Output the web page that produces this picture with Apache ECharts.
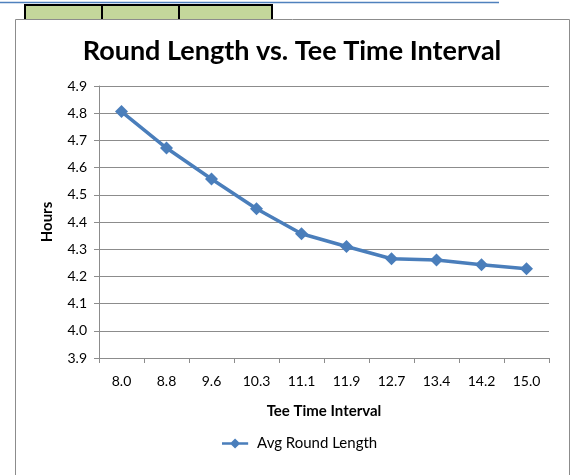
<!DOCTYPE html>
<html><head><meta charset="utf-8">
<script src="https://cdn.jsdelivr.net/npm/echarts@6/dist/echarts.min.js"></script>
<style>html,body{margin:0;padding:0;background:#fff}#c{width:571px;height:475px}</style>
</head><body><div id="c"></div>
<script>
const categories = ['8.0','8.8','9.6','10.3','11.1','11.9','12.7','13.4','14.2','15.0'];
const avgRoundLength = [4.806, 4.672, 4.558, 4.449, 4.357, 4.310, 4.265, 4.260, 4.243, 4.228];
const seriesName = 'Avg Round Length';
const FONT = 'Lato, "Open Sans", sans-serif';
const chart = echarts.init(document.getElementById('c'));
chart.setOption({
  animation: false,
  backgroundColor: '#fff',
  graphic: [
    {type:'line', shape:{x1:0,y1:2.5,x2:499,y2:2.5}, style:{stroke:'#4f81bd',lineWidth:1.5}, z:-5},
    {type:'rect', shape:{x:25,y:5,width:247,height:20}, style:{fill:'#c4d79b',stroke:'#000',lineWidth:2}, z:-5},
    {type:'line', shape:{x1:102,y1:5,x2:102,y2:25}, style:{stroke:'#000',lineWidth:2}, z:-5},
    {type:'line', shape:{x1:179,y1:5,x2:179,y2:25}, style:{stroke:'#000',lineWidth:2}, z:-5},
    {type:'rect', shape:{x:15.5,y:19.5,width:554,height:470}, style:{fill:'#fff',stroke:'#8c8c8c',lineWidth:1}, z:-4},
    {type:'text', x:292, y:51, style:{text:'Round Length vs. Tee Time Interval', font:'bold 27px '+FONT, fill:'#000', textAlign:'center', textVerticalAlign:'middle'}, z:10}
  ],
  grid: {left:99, right:22, top:86, bottom:117},
  legend: {
    data:[seriesName], bottom:19, left:217, itemWidth:34, itemHeight:10, itemGap:5,
    textStyle:{fontFamily:FONT, fontSize:15, color:'#000'},
    icon:'path://M0,3.5 L12,3.5 L17,-1.5 L22,3.5 L34,3.5 L34,6.5 L22,6.5 L17,11.5 L12,6.5 L0,6.5 Z'
  },
  xAxis: {
    type:'category', data:categories, boundaryGap:true,
    name:'Tee Time Interval', nameLocation:'middle', nameGap:46,
    nameTextStyle:{fontFamily:FONT, fontWeight:'bold', fontSize:15, color:'#000'},
    axisLine:{lineStyle:{color:'#8c8c8c', width:1}},
    axisTick:{show:true, length:5, lineStyle:{color:'#8c8c8c'}},
    axisLabel:{fontFamily:FONT, fontSize:14, color:'#000', margin:16}
  },
  yAxis: {
    type:'value', min:3.9, max:4.9, interval:0.1,
    name:'Hours', nameLocation:'middle', nameGap:44, nameRotate:90,
    nameTextStyle:{fontFamily:FONT, fontWeight:'bold', fontSize:15, color:'#000'},
    axisLine:{show:true, lineStyle:{color:'#8c8c8c', width:1}},
    axisTick:{show:true, length:5, lineStyle:{color:'#8c8c8c'}},
    splitLine:{show:true, lineStyle:{color:'#8c8c8c', width:1}},
    axisLabel:{fontFamily:FONT, fontSize:14, color:'#000', margin:12, formatter:v=>v.toFixed(1)}
  },
  series: [{
    name:seriesName, type:'line', data:avgRoundLength,
    symbol:'diamond', symbolSize:13,
    lineStyle:{color:'#4a7ebb', width:3.5},
    itemStyle:{color:'#4a7ebb'}
  }]
});
</script></body></html>
